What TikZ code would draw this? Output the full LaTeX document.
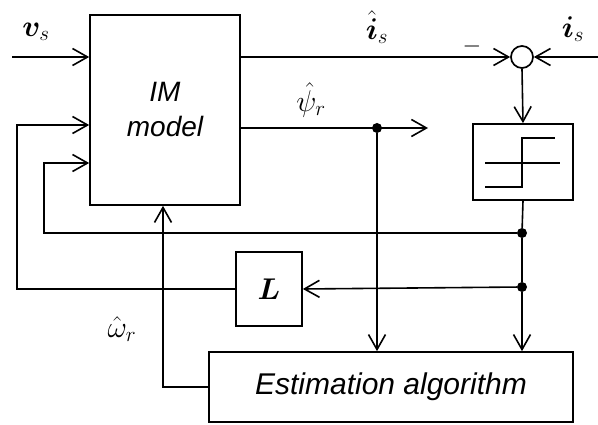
\RequirePackage{fix-cm}
\documentclass[tikz,border=0pt]{standalone}
\usepackage{fontspec}
\usepackage{bm}
\usetikzlibrary{arrows.meta}
\newfontfamily\arialfont{Liberation Sans}
\tikzset{
  block/.style={draw, line width=1.7pt, inner sep=0pt},
  wire/.style={line width=1.6pt},
  sig/.style={wire, -{Straight Barb[length=15pt,width=17pt]}},
  junc/.style={circle, fill, inner sep=0pt, minimum size=10pt},
  lab/.style={font=\fontsize{30}{34}\selectfont},
  bigtext/.style={font=\arialfont\itshape\fontsize{28}{35}\selectfont, align=center},
}
\begin{document}
\begin{tikzpicture}[x=1pt,y=-1pt]
 \useasboundingbox (0,0) rectangle (598,425);
 % blocks
 \node[block, bigtext, minimum width=150pt, minimum height=190pt] (im) at (165,110) {IM\\model};
 \node[block, circle, minimum size=22pt] (sum) at (522,57) {};
 \node[block, minimum width=100pt, minimum height=76pt] (hyst) at (523,162) {};
 \node[block, minimum width=66pt, minimum height=74pt, font=\fontsize{30}{32}\selectfont] (L) at (269,289) {$\bm{L}$};
 \node[block, bigtext, font=\arialfont\itshape\fontsize{30}{35}\selectfont, minimum width=364pt, minimum height=70pt] (est) at (391,387) {Estimation algorithm};
 % relay characteristic
 \draw[line width=1.2pt] (485,163) -- (560,163);
 \draw[line width=1.2pt] (485,187) -- (522,187) -- (522,138) -- (555,138);
 % junctions
 \node[junc] (dpsi) at (377,128) {};
 \node[junc] (d1) at (522,233) {};
 \node[junc] (d2) at (522,287) {};
 \coordinate (vin) at (12,57);
 \coordinate (iin) at (598,57);
 \coordinate (psiend) at (428,128);
 % connectors
 \draw[sig] (vin) -- (vin -| im.west);
 \draw[sig] (im.east |- sum) -- (sum.west);
 \draw[sig] (iin) -- (sum.east);
 \draw[sig] (sum.south) -- (hyst.north);
 \draw[wire] (hyst.south) -- (d1) -- (d2);
 \draw[sig] (d2) -- (d2 |- est.north);
 \draw[sig] (im.east |- psiend) -- (psiend);
 \draw[sig] (dpsi) -- (dpsi |- est.north);
 \draw[sig] (d1) -- ++(-478,0) |- ([yshift=-53pt]im.west);
 \draw[sig] (d2) -- (L.east);
 \draw[sig] (L.west) -- ++(-218,0) |- ([yshift=-15pt]im.west);
 \draw[sig] (est.west) -| ([xshift=-2pt]im.south);
 % labels
 \node[lab] (vs) at (36,32) {$\bm{v}_s$};
 \node[lab] (ishat) at (377,27) {$\hat{\bm{i}}_s$};
 \node[lab, font=\fontsize{24}{26}\selectfont] (minus) at (472,47) {$-$};
 \node[lab] (is) at (573,29) {$\bm{i}_s$};
 \node[lab] (psi) at (311,100) {$\hat{\psi}_r$};
 \node[lab] (om) at (122,329) {$\hat{\omega}_r$};
\end{tikzpicture}
\end{document}
